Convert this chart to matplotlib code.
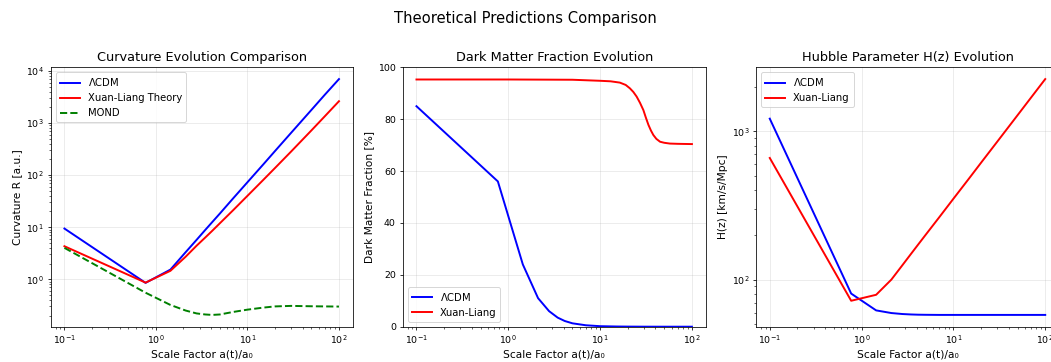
import matplotlib
matplotlib.use("Agg")
import matplotlib.pyplot as plt

# scale factor samples
a_vals = [0.1, 0.77, 1.44, 2.11, 2.78, 3.45, 4.12, 5.0, 7.0, 10.0, 15.0, 20.0,
          30.0, 50.0, 70.0, 100.0]

# curvature R [a.u.]
curv_lcdm = [9.4, 0.85, 1.53, 3.3, 5.7, 8.8, 12.5, 18.3, 36, 73, 163, 290,
             650, 1790, 3500, 7000]
curv_xl = [4.3, 0.86, 1.45, 2.7, 4.4, 6.3, 8.5, 11.9, 21.3, 40, 82, 137,
           284, 723, 1350, 2630]
curv_mond = [4.0, 0.55, 0.32, 0.25, 0.22, 0.21, 0.206, 0.21, 0.235, 0.26, 0.285, 0.30,
             0.307, 0.302, 0.30, 0.298]

# dark matter fraction [%]
dm_lcdm = [85, 56, 24, 11, 6, 3.5, 2.2, 1.3, 0.55, 0.2, 0.08, 0.04,
           0.01, 0.0, 0.0, 0.0]
a_dm_xl = [0.1, 1.0, 5.0, 10.0, 13.0, 16.4, 19.0, 21.1, 23.0, 25.0, 27.2, 29.6,
           31.5, 33.6, 35.8, 38.0, 41.0, 45.0, 50.0, 57.5, 70.0, 100.0]
dm_xl = [95.3, 95.3, 95.2, 94.8, 94.6, 94.1, 93.2, 91.9, 90.5, 88.7, 86.3, 83.5,
         80.6, 77.8, 75.6, 73.9, 72.4, 71.3, 70.9, 70.6, 70.5, 70.4]

# Hubble parameter [km/s/Mpc]
h_lcdm = [1217, 80.5, 62, 59.5, 58.6, 58.2, 58.0, 57.9, 57.8, 57.8, 57.8, 57.8,
          57.8, 57.8, 57.8, 57.8]
h_xl = [661, 72, 79, 100, 125, 149, 172, 201, 263, 351, 486, 614,
        851, 1285, 1687, 2250]

plt.rcParams['font.size'] = 10.9
plt.rcParams['axes.titlesize'] = 13.3
plt.rcParams['xtick.labelsize'] = 9.6
plt.rcParams['ytick.labelsize'] = 9.6
plt.rcParams['legend.fontsize'] = 10.3

fig = plt.figure(figsize=(1051 / 70, 362 / 70), dpi=70)
fig.suptitle("Theoretical Predictions Comparison", fontsize=15.2, y=0.97)

bottom = 1 - 326.7 / 362
height = 259.4 / 362
ax1 = fig.add_axes([50.7 / 1051, bottom, 302 / 1051, height])
ax2 = fig.add_axes([402.7 / 1051, bottom, 303 / 1051, height])
ax3 = fig.add_axes([756 / 1051, bottom, 303 / 1051, height])

ax1.loglog(a_vals, curv_lcdm, "b-", lw=2, label=r"$\Lambda$CDM")
ax1.loglog(a_vals, curv_xl, "r-", lw=2, label="Xuan-Liang Theory")
ax1.loglog(a_vals, curv_mond, "g--", lw=2, label="MOND")
ax1.set_xlabel("Scale Factor a(t)/a₀")
ax1.set_ylabel("Curvature R [a.u.]")
ax1.set_title("Curvature Evolution Comparison")
ax1.legend(loc="upper left")
ax1.grid(True, alpha=0.3)

ax2.semilogx(a_vals, dm_lcdm, "b-", lw=2, label=r"$\Lambda$CDM")
ax2.semilogx(a_dm_xl, dm_xl, "r-", lw=2, label="Xuan-Liang")
ax2.set_xlabel("Scale Factor a(t)/a₀")
ax2.set_ylabel("Dark Matter Fraction [%]")
ax2.set_title("Dark Matter Fraction Evolution")
ax2.set_ylim(0, 100)
ax2.legend(loc="lower left")
ax2.grid(True, alpha=0.3)

ax3.loglog(a_vals, h_lcdm, "b-", lw=2, label=r"$\Lambda$CDM")
ax3.loglog(a_vals, h_xl, "r-", lw=2, label="Xuan-Liang")
ax3.set_xlabel("Scale Factor a(t)/a₀")
ax3.set_ylabel("H(z) [km/s/Mpc]")
ax3.set_title("Hubble Parameter H(z) Evolution")
ax3.legend(loc="upper left")
ax3.grid(True, alpha=0.3)

fig.savefig("out.png", dpi=70)
